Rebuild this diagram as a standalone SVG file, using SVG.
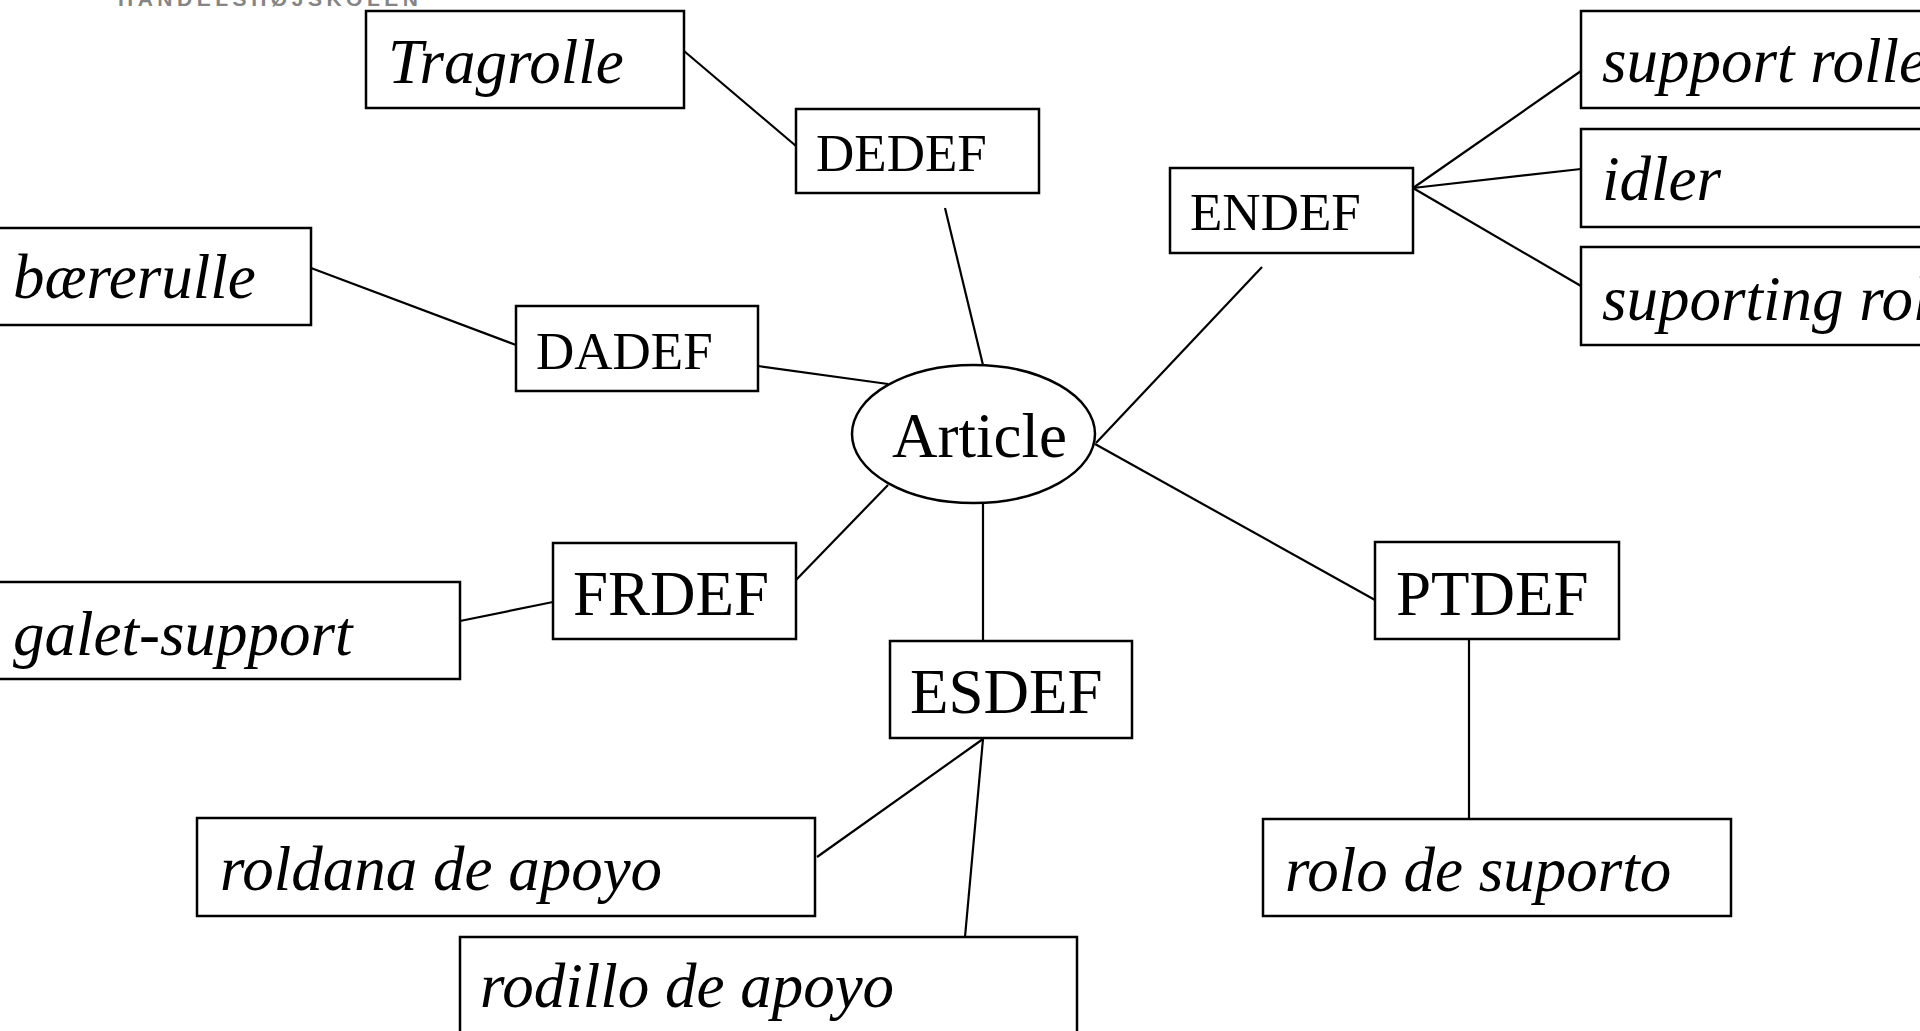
<svg xmlns="http://www.w3.org/2000/svg" width="1920" height="1031" viewBox="0 0 1920 1031">
<style>
.box{fill:#fff;stroke:#000;stroke-width:2.5}
.ell{fill:#fff;stroke:#000;stroke-width:2.5}
.ln{stroke:#000;stroke-width:2.2;fill:none}
.t{font-family:"Liberation Serif","Times New Roman",serif;font-size:63px;fill:#000}
.s{font-family:"Liberation Serif","Times New Roman",serif;font-size:53px;fill:#000}
.i{font-family:"Liberation Serif","Times New Roman",serif;font-size:63px;font-style:italic;fill:#000}
.logo{font-family:"Liberation Sans",Arial,sans-serif;font-size:21px;font-weight:bold;fill:#858585;letter-spacing:6px}
</style>
<rect width="1920" height="1031" fill="#fff"/>
<text class="logo" x="118" y="6" textLength="306" lengthAdjust="spacing">HANDELSHØJSKOLEN</text>
<g id="connectors">
<line class="ln" x1="684" y1="51" x2="796" y2="146"/>
<line class="ln" x1="945" y1="208" x2="983" y2="365"/>
<line class="ln" x1="311" y1="268" x2="516" y2="345"/>
<line class="ln" x1="758" y1="366" x2="888" y2="384"/>
<line class="ln" x1="1262" y1="267" x2="1096" y2="443"/>
<line class="ln" x1="1413" y1="188" x2="1581" y2="71"/>
<line class="ln" x1="1413" y1="188" x2="1581" y2="169"/>
<line class="ln" x1="1413" y1="188" x2="1581" y2="286"/>
<line class="ln" x1="796" y1="580" x2="888" y2="485"/>
<line class="ln" x1="460" y1="621" x2="553" y2="602"/>
<line class="ln" x1="983" y1="503" x2="983" y2="641"/>
<line class="ln" x1="1095" y1="444" x2="1375" y2="600"/>
<line class="ln" x1="1469" y1="640" x2="1469" y2="819"/>
<line class="ln" x1="983" y1="739" x2="817" y2="857"/>
<line class="ln" x1="983" y1="739" x2="965" y2="937"/>
</g>
<g id="article"><ellipse class="ell" cx="973.5" cy="434" rx="121.5" ry="69"/><text class="t" x="892" y="457">Article</text></g>
<g id="dedef"><rect class="box" x="796" y="109" width="243" height="84"/><text class="s" x="816" y="171">DEDEF</text></g>
<g id="tragrolle"><rect class="box" x="366" y="11" width="318" height="97"/><text class="i" x="388" y="83">Tragrolle</text></g>
<g id="dadef"><rect class="box" x="516" y="306" width="242" height="85"/><text class="s" x="536" y="369">DADEF</text></g>
<g id="baererulle"><rect class="box" x="-5" y="228" width="316" height="97"/><text class="i" x="13" y="298">bærerulle</text></g>
<g id="endef"><rect class="box" x="1170" y="168" width="243" height="85"/><text class="s" x="1190" y="230">ENDEF</text></g>
<g id="support-roller"><rect class="box" x="1581" y="11" width="400" height="97"/><text class="i" x="1602" y="82">support roller</text></g>
<g id="idler"><rect class="box" x="1581" y="129" width="400" height="98"/><text class="i" x="1602" y="200">idler</text></g>
<g id="suporting-roller"><rect class="box" x="1581" y="247" width="400" height="98"/><text class="i" x="1602" y="320">suporting roller</text></g>
<g id="frdef"><rect class="box" x="553" y="543" width="243" height="96"/><text class="t" x="573" y="615">FRDEF</text></g>
<g id="galet-support"><rect class="box" x="-5" y="582" width="465" height="97"/><text class="i" x="13" y="655">galet-support</text></g>
<g id="esdef"><rect class="box" x="890" y="641" width="242" height="97"/><text class="t" x="910" y="713">ESDEF</text></g>
<g id="ptdef"><rect class="box" x="1375" y="542" width="244" height="97"/><text class="t" x="1396" y="615">PTDEF</text></g>
<g id="rolo-de-suporto"><rect class="box" x="1263" y="819" width="468" height="97"/><text class="i" x="1285" y="891">rolo de suporto</text></g>
<g id="roldana-de-apoyo"><rect class="box" x="197" y="818" width="618" height="98"/><text class="i" x="220" y="890">roldana de apoyo</text></g>
<g id="rodillo-de-apoyo"><rect class="box" x="460" y="937" width="617" height="98"/><text class="i" x="480" y="1007">rodillo de apoyo</text></g>
</svg>
